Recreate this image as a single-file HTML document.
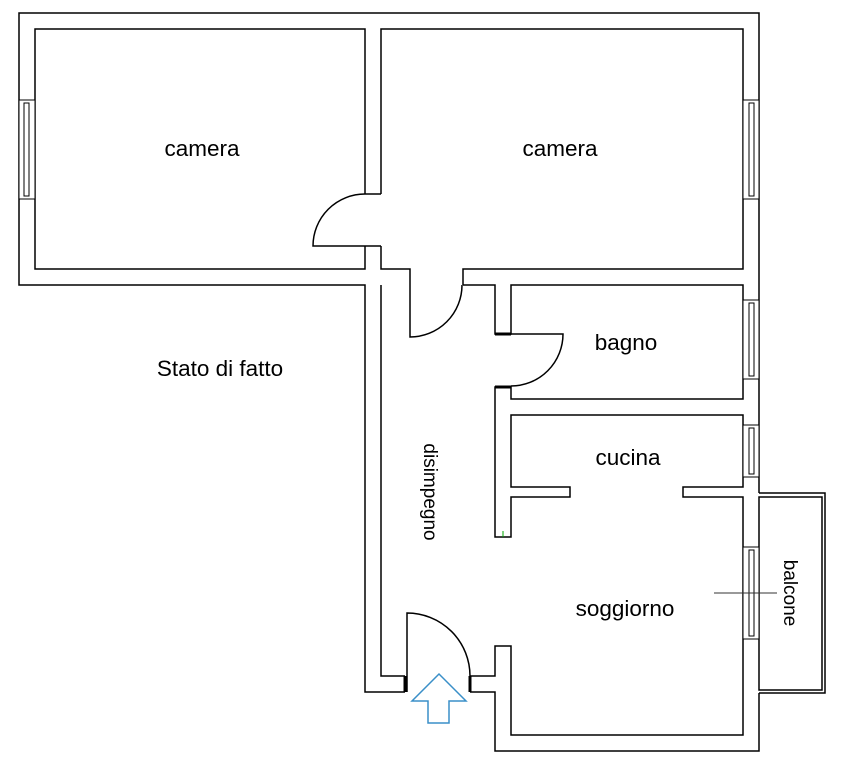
<!DOCTYPE html>
<html><head><meta charset="utf-8"><style>
html,body{margin:0;padding:0;background:#fff;}
svg{display:block;}
text{font-family:"Liberation Sans",Arial,sans-serif;font-size:22.5px;fill:#000;}
text.s{font-size:19px;}
</style></head><body>
<svg width="845" height="766" viewBox="0 0 845 766" xmlns="http://www.w3.org/2000/svg">
<g fill="none" stroke="#000" stroke-width="1.5">
<path d="M470,692 H495 V751 H759 V693 M759,493 V13 H19 V285 H365 V692 H405"/>
<path d="M759,493 H825 V693 H759"/>
<path d="M759,497 H822 V690 H759 Z"/>
<path d="M365,194 V29 H35 V269 H365 V246"/>
<path d="M365,194 H381 M365,246 H381"/>
<path d="M381,194 V29 H743 V269 H463 V285"/>
<path d="M381,246 V269 H410 V285"/>
<path d="M381,285 V676 H405"/>
<path d="M463,285 H495 V334 H511 V285 H743 V399 H511 V387 H495 V537 H511 V497 H570 V487 H511 V415 H743 V487 H683 V497 H743 V735 H511 V646 H495 V676 H470"/>
<path d="M365,194 A52,52 0 0 0 313,246 H365"/>
<path d="M410,285 V337 A52,52 0 0 0 462,285"/>
<path d="M495,334 H563 A52,52 0 0 1 511,386"/>
<path d="M407,692 V613 A63,63 0 0 1 470,676"/>
</g>
<g stroke="#000" stroke-width="3">
<path d="M405,676 V692 M470,676 V692 M495,334 H511 M495,387 H511"/>
</g>
<g fill="#fff" stroke="#000" stroke-width="1">
<rect x="19" y="100" width="16" height="99"/>
<rect x="24" y="103" width="5" height="93"/>
<rect x="743" y="100" width="16" height="99"/>
<rect x="749" y="103" width="5" height="93"/>
<rect x="743" y="300" width="16" height="79"/>
<rect x="749" y="303" width="5" height="73"/>
<rect x="743" y="425" width="16" height="52"/>
<rect x="749" y="428" width="5" height="46"/>
<rect x="743" y="547" width="16" height="92"/>
<rect x="749" y="550" width="5" height="86"/>
</g>
<line x1="714" y1="593" x2="777" y2="593" stroke="#333" stroke-width="1"/>
<line x1="503" y1="531" x2="503" y2="537" stroke="#0a0" stroke-width="1"/>
<polygon points="439,674 412,701 428,701 428,723 449,723 449,701 466,701" fill="#fff" stroke="#3a8fc8" stroke-width="1.5"/>
<text x="202" y="156" text-anchor="middle">camera</text>
<text x="560" y="156" text-anchor="middle">camera</text>
<text x="626" y="350" text-anchor="middle">bagno</text>
<text x="220" y="376" text-anchor="middle">Stato di fatto</text>
<text x="628" y="465" text-anchor="middle">cucina</text>
<text x="625" y="616" text-anchor="middle">soggiorno</text>
<text class="s" x="0" y="0" text-anchor="middle" transform="translate(424,492) rotate(90)">disimpegno</text>
<text class="s" x="0" y="0" text-anchor="middle" transform="translate(784,593) rotate(90)">balcone</text>
</svg>
</body></html>
